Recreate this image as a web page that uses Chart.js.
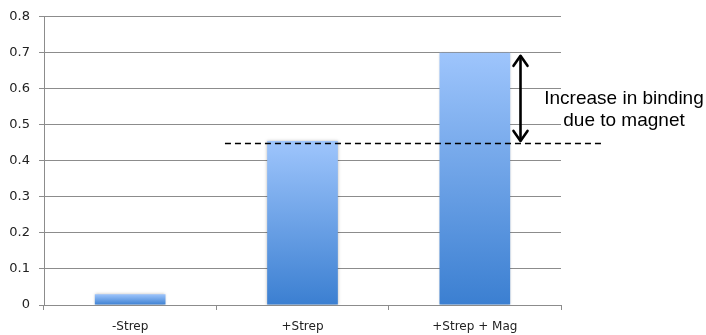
<!DOCTYPE html>
<html>
<head>
<meta charset="utf-8">
<script src="https://cdn.jsdelivr.net/npm/chart.js@4.4.1/dist/chart.umd.min.js"></script>
<style>
  html, body { margin: 0; padding: 0; background: #fff; }
  #wrap { width: 706px; height: 335px; }
</style>
</head>
<body>
<div id="wrap"><canvas id="c" width="706" height="335"></canvas></div>
<script>
// Binding measured for each condition
const categories = ['-Strep', '+Strep', '+Strep + Mag'];
const binding = [0.03, 0.455, 0.7];
const yTicks = [0, 0.1, 0.2, 0.3, 0.4, 0.5, 0.6, 0.7, 0.8];
// Reference level (binding without magnet) and the annotation text
const referenceLevel = 0.45;
const magnetLevel = 0.7;
const noteLines = ['Increase in binding', 'due to magnet'];

const AXIS_GRAY = '#8c8c8c';

// Vertical gradient per bar: light at the top, deeper blue at the base
function barGradient(ctx) {
  const chart = ctx.chart;
  const y = chart.scales.y;
  if (!y || ctx.type !== 'data') return '#6fa3e8';
  const top = y.getPixelForValue(ctx.raw);
  const base = y.getPixelForValue(0);
  if (!isFinite(top) || !isFinite(base) || top === base) return '#6fa3e8';
  const g = chart.ctx.createLinearGradient(0, top, 0, base);
  g.addColorStop(0, '#9ec5fc');
  g.addColorStop(1, '#3b7fd1');
  return g;
}

// Soft shadow around the bars
const barShadow = {
  id: 'barShadow',
  beforeDatasetsDraw(chart) {
    const c = chart.ctx;
    c.save();
    c.shadowColor = 'rgba(0,0,0,0.28)';
    c.shadowBlur = 3;
    c.shadowOffsetX = 0;
    c.shadowOffsetY = 0;
  },
  afterDatasetsDraw(chart) {
    chart.ctx.restore();
  }
};

// Dashed reference line, double arrow and note
const annotation = {
  id: 'annotation',
  afterDraw(chart) {
    const c = chart.ctx;
    const x = chart.scales.x;
    const y = chart.scales.y;
    const area = chart.chartArea;
    const catW = (x.getPixelForValue(1) - x.getPixelForValue(0));

    // dashed line at the +Strep level
    const yRef = y.getPixelForValue(referenceLevel);
    const xStart = x.getPixelForValue(1) - 0.45 * catW;
    const xEnd = area.right + 42;
    c.save();
    c.strokeStyle = '#000';
    c.lineWidth = 1.3;
    c.setLineDash([6, 4]);
    c.beginPath();
    c.moveTo(xStart, Math.round(yRef) + 0.5);
    c.lineTo(xEnd, Math.round(yRef) + 0.5);
    c.stroke();
    c.restore();

    // double-headed arrow between the two levels
    const ax = x.getPixelForValue(2) + 0.265 * catW;
    const yTop = y.getPixelForValue(magnetLevel) + 3;
    const yBot = yRef - 2;
    c.save();
    c.strokeStyle = '#000';
    c.lineWidth = 2.6;
    c.lineCap = 'round';
    c.lineJoin = 'round';
    c.beginPath();
    c.moveTo(ax, yTop + 1);
    c.lineTo(ax, yBot - 1);
    c.stroke();
    c.beginPath();
    c.moveTo(ax - 7, yTop + 10);
    c.lineTo(ax, yTop);
    c.lineTo(ax + 7, yTop + 10);
    c.moveTo(ax - 7, yBot - 10);
    c.lineTo(ax, yBot);
    c.lineTo(ax + 7, yBot - 10);
    c.stroke();
    c.restore();

    // note text
    const tx = area.right + 63;
    const yMid = y.getPixelForValue((magnetLevel + referenceLevel) / 2);
    c.save();
    c.fillStyle = '#000';
    c.font = '19px "Liberation Sans", Arial, sans-serif';
    c.textAlign = 'center';
    c.textBaseline = 'middle';
    c.fillText(noteLines[0], tx, yMid + 1);
    c.fillText(noteLines[1], tx, yMid + 23);
    c.restore();
  }
};

new Chart(document.getElementById('c'), {
  type: 'bar',
  data: {
    labels: categories,
    datasets: [{
      data: binding,
      backgroundColor: barGradient,
      borderWidth: 0,
      categoryPercentage: 1.0,
      barPercentage: 0.41
    }]
  },
  options: {
    responsive: false,
    animation: false,
    devicePixelRatio: 1,
    layout: { padding: { top: 7, right: 145, bottom: 0, left: 0 } },
    plugins: {
      legend: { display: false },
      tooltip: { enabled: false }
    },
    scales: {
      x: {
        afterFit(scale) { scale.height = 30; },
        grid: {
          offset: true,
          drawOnChartArea: false,
          drawTicks: true,
          tickLength: 5,
          color: AXIS_GRAY
        },
        border: { display: true, color: AXIS_GRAY, width: 1 },
        ticks: { color: '#222', font: { family: 'DejaVu Sans', size: 12 }, padding: 10, maxRotation: 0 }
      },
      y: {
        min: 0,
        max: 0.8,
        afterBuildTicks(scale) {
          scale.ticks = yTicks.map(v => ({ value: v }));
        },
        afterFit(scale) { scale.width = 44; },
        grid: {
          color: AXIS_GRAY,
          lineWidth: 1,
          drawTicks: true,
          tickLength: 5
        },
        border: { display: true, color: AXIS_GRAY, width: 1 },
        ticks: {
          color: '#222',
          font: { family: 'DejaVu Sans', size: 13 },
          padding: 9,
          callback: v => (v === 0 ? '0' : v.toFixed(1))
        }
      }
    }
  },
  plugins: [barShadow, annotation]
});
</script>
</body>
</html>
